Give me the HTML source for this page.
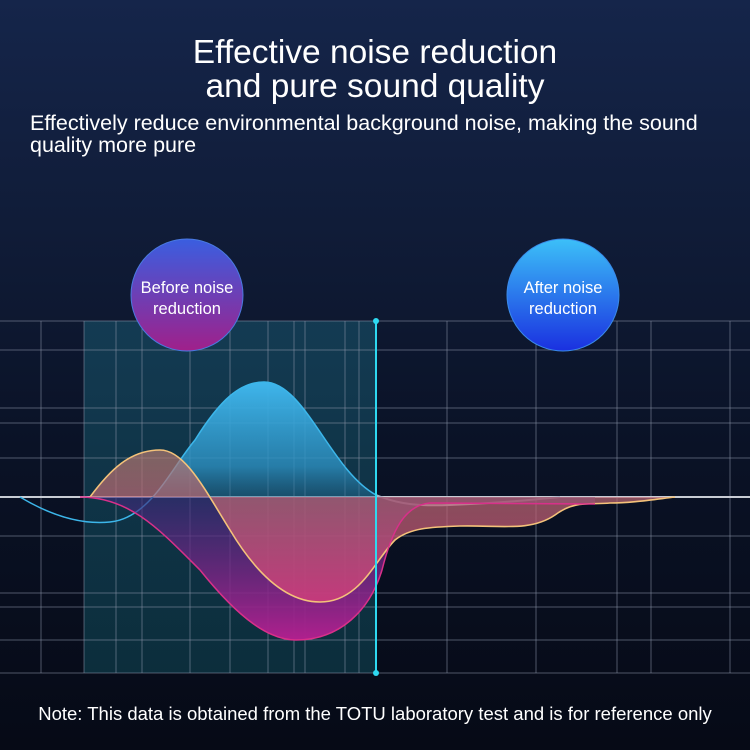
<!DOCTYPE html>
<html><head><meta charset="utf-8"><style>
html,body{margin:0;padding:0}
body{width:750px;height:750px;overflow:hidden;position:relative;font-family:"Liberation Sans",sans-serif;color:#fff;
background:linear-gradient(180deg,#15254a 0%,#101c38 30%,#0a1226 60%,#060a16 100%);}
.t{position:absolute;left:0;width:750px;text-align:center;font-size:33.5px;line-height:34px}
.s{position:absolute;left:30px;font-size:21.5px;line-height:22px;width:720px;white-space:nowrap}
.n{position:absolute;left:0;width:750px;text-align:center;top:703px;font-size:18.5px}
svg{position:absolute;left:0;top:0}
</style></head><body>
<svg width="750" height="750" viewBox="0 0 750 750">
<defs>
<linearGradient id="teal" x1="0" y1="0" x2="0" y2="1"><stop offset="0" stop-color="#1d6f86" stop-opacity=".4"/><stop offset="1" stop-color="#12606f" stop-opacity=".4"/></linearGradient>
<linearGradient id="blue" x1="0" y1="0" x2="0" y2="1"><stop offset="0" stop-color="#3fb6ec"/><stop offset=".6" stop-color="#2c8fc0" stop-opacity=".8"/><stop offset="1" stop-color="#1a4f70" stop-opacity=".2"/></linearGradient>
<linearGradient id="mag" x1="0" y1="0" x2="0" y2="1"><stop offset="0" stop-color="#3a2a7a" stop-opacity=".6"/><stop offset="1" stop-color="#b0208e"/></linearGradient>
<linearGradient id="pk" x1="0" y1="0" x2="0" y2="1"><stop offset="0" stop-color="#b07a70" stop-opacity=".8"/><stop offset="1" stop-color="#d8407a" stop-opacity=".9"/></linearGradient>
<linearGradient id="c1" x1="0" y1="0" x2="0" y2="1"><stop offset="0" stop-color="#3a5ee0"/><stop offset="1" stop-color="#a0208a"/></linearGradient>
<linearGradient id="c2" x1="0" y1="0" x2="0" y2="1"><stop offset="0" stop-color="#3cc0f8"/><stop offset="1" stop-color="#1a30e0"/></linearGradient>
<clipPath id="cb"><rect x="0" y="300" width="382" height="197"/></clipPath>
</defs>
<rect x="84" y="321" width="292" height="352" fill="url(#teal)"/>
<g stroke="#8a94a8" stroke-opacity=".55" stroke-width="1">
<line x1="0" y1="321" x2="750" y2="321"/><line x1="0" y1="350" x2="750" y2="350"/>
<line x1="0" y1="408" x2="750" y2="408"/><line x1="0" y1="423" x2="750" y2="423"/>
<line x1="0" y1="458" x2="750" y2="458"/><line x1="0" y1="536" x2="750" y2="536"/>
<line x1="0" y1="593" x2="750" y2="593"/><line x1="0" y1="607" x2="750" y2="607"/>
<line x1="0" y1="640" x2="750" y2="640"/><line x1="0" y1="673" x2="750" y2="673"/>
<line x1="41" y1="321" x2="41" y2="673"/><line x1="84" y1="321" x2="84" y2="673"/>
<line x1="116" y1="321" x2="116" y2="673"/><line x1="142" y1="321" x2="142" y2="673"/>
<line x1="190" y1="321" x2="190" y2="673"/><line x1="230" y1="321" x2="230" y2="673"/>
<line x1="268" y1="321" x2="268" y2="673"/><line x1="294" y1="321" x2="294" y2="673"/>
<line x1="305" y1="321" x2="305" y2="673"/><line x1="345" y1="321" x2="345" y2="673"/>
<line x1="359" y1="321" x2="359" y2="673"/><line x1="447" y1="321" x2="447" y2="673"/>
<line x1="536" y1="321" x2="536" y2="673"/><line x1="617" y1="321" x2="617" y2="673"/>
<line x1="651" y1="321" x2="651" y2="673"/><line x1="730" y1="321" x2="730" y2="673"/>
</g>
<line x1="0" y1="497" x2="750" y2="497" stroke="#c8ccd4" stroke-width="2"/>
<path d="M20,497 C50,515 80,525 110,522 C150,518 170,470 195,440 C220,400 240,382 264,382 C305,382 330,470 376,495 L376,497 L0,497 Z" fill="url(#blue)" clip-path="url(#cb)"/>
<path d="M20,497 C50,515 80,525 110,522 C150,518 170,470 195,440 C220,400 240,382 264,382 C305,382 330,470 376,495" fill="none" stroke="#3cb6ea" stroke-width="1.5"/>
<path d="M376,495 C400,505 420,506 450,505 C500,503 530,500 560,497" fill="none" stroke="#a8b0c4" stroke-width="2"/>
<path d="M80,497 C130,497 160,530 200,570 C240,620 270,640 296,640 C340,640 370,610 382,570 C392,530 405,505 430,503 L595,504 L595,497 Z" fill="url(#mag)"/>
<path d="M90,497 C110,470 130,450 160,450 C185,450 205,490 230,530 C260,580 290,602 320,602 C360,602 375,560 395,540 C410,528 430,527 460,526 C500,525 530,532 555,515 C575,500 590,505 610,503 C630,503 650,500 675,497 Z" fill="url(#pk)" opacity=".85"/>
<path d="M90,497 C110,470 130,450 160,450 C185,450 205,490 230,530 C260,580 290,602 320,602 C360,602 375,560 395,540 C410,528 430,527 460,526 C500,525 530,532 555,515 C575,500 590,505 610,503 C630,503 650,500 675,497" fill="none" stroke="#f4c27a" stroke-width="1.6"/>
<path d="M80,497 C130,497 160,530 200,570 C240,620 270,640 296,640 C340,640 370,610 382,570 C392,530 405,505 430,503 L595,504" fill="none" stroke="#d8308a" stroke-width="1.5"/>
<line x1="376" y1="321" x2="376" y2="673" stroke="#2ed8f0" stroke-width="2"/>
<circle cx="376" cy="321" r="3" fill="#2ed8f0"/><circle cx="376" cy="673" r="3" fill="#2ed8f0"/>
<circle cx="187" cy="295" r="56" fill="url(#c1)" stroke="#4a7ae0" stroke-width="1"/>
<circle cx="563" cy="295" r="56" fill="url(#c2)" stroke="#3a8ae8" stroke-width="1"/>
<text x="187" y="293" text-anchor="middle" font-size="16.5" fill="#fff" font-family="Liberation Sans, sans-serif">Before noise</text>
<text x="187" y="314" text-anchor="middle" font-size="16.5" fill="#fff" font-family="Liberation Sans, sans-serif">reduction</text>
<text x="563" y="293" text-anchor="middle" font-size="16.5" fill="#fff" font-family="Liberation Sans, sans-serif">After noise</text>
<text x="563" y="314" text-anchor="middle" font-size="16.5" fill="#fff" font-family="Liberation Sans, sans-serif">reduction</text>
</svg>
<div class="t" style="top:36px">Effective noise reduction</div>
<div class="t" style="top:70px">and pure sound quality</div>
<div class="s" style="top:112px">Effectively reduce environmental background noise, making the sound<br>quality more pure</div>
<div class="n">Note: This data is obtained from the TOTU laboratory test and is for reference only</div>
</body></html>
